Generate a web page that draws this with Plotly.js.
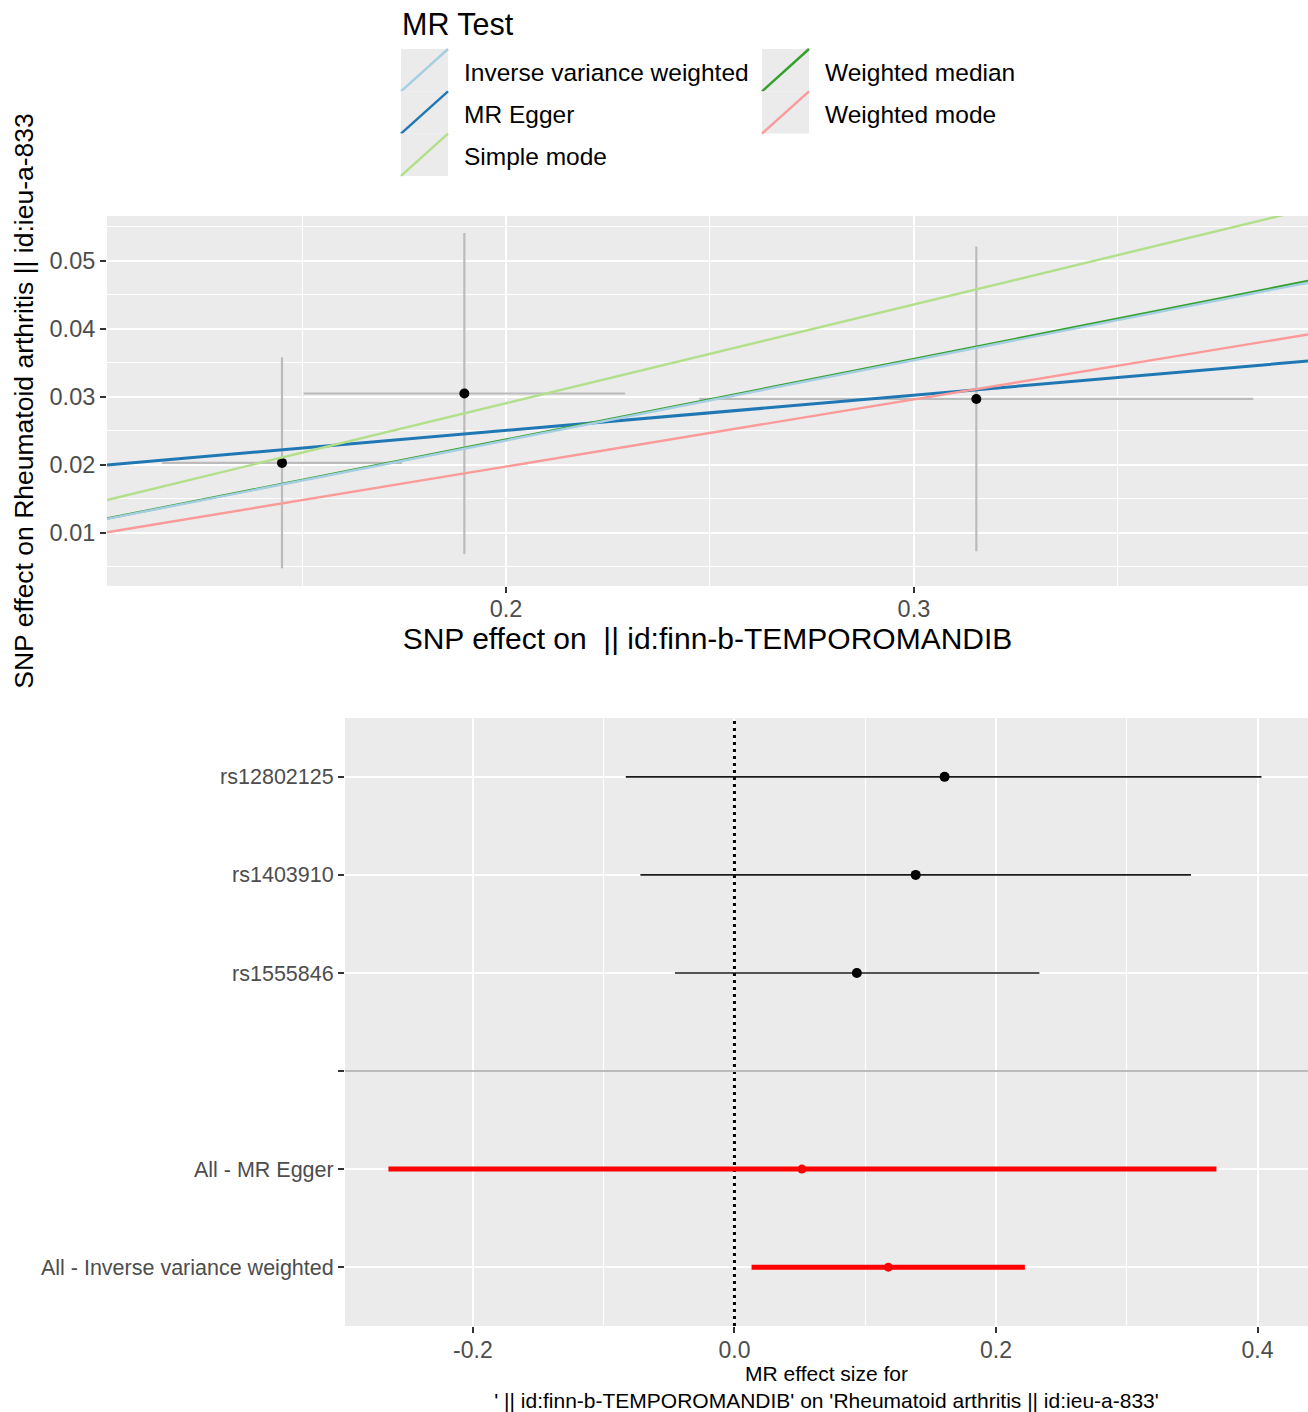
<!DOCTYPE html>
<html>
<head>
<meta charset="utf-8">
<script src="https://cdn.plot.ly/plotly-3.0.1.min.js"></script>
<style>
  html, body { margin: 0; padding: 0; background: #ffffff; }
  #top { width: 1308px; height: 700px; }
  #bottom { width: 1308px; height: 712px; }
</style>
</head>
<body>
<div id="top"></div>
<div id="bottom"></div>
<script>
// ---------------- DATA: scatter plot (top) ----------------
const snpIds       = ["rs1403910", "rs12802125", "rs1555846"];
const exposureBeta = [0.1451, 0.1898, 0.3153];
const exposureSe   = [0.0294, 0.0394, 0.0679];
const outcomeBeta  = [0.0203, 0.0305, 0.0297];
const outcomeSe    = [0.0155, 0.0236, 0.0224];

// MR methods (drawing order follows the MR results table)
const methodNames  = ["MR Egger", "Weighted median", "Inverse variance weighted", "Simple mode", "Weighted mode"];
const methodSlope  = [0.0519, 0.1186, 0.1180, 0.1453, 0.0988];
const methodInter  = [0.01469, 0, 0, 0, 0];
const methodColors = ["#1F78B4", "#33A02C", "#A6CEE3", "#B2DF8A", "#FB9A99"];
// legend order (as in the reference legend)
const legendOrder  = ["Inverse variance weighted", "MR Egger", "Simple mode", "Weighted median", "Weighted mode"];

const topXRange = [0.1022, 0.3966];
const topYRange = [0.0022, 0.0566];
const topXTitle = "SNP effect on \u00a0|| id:finn-b-TEMPOROMANDIB";
const topYTitle = "SNP effect on Rheumatoid arthritis || id:ieu-a-833";
const legendTitle = "MR Test";

// ---------------- DATA: forest plot (bottom) ----------------
const forestLabels  = ["rs12802125", "rs1403910", "rs1555846", "", "All - MR Egger", "All - Inverse variance weighted"];
const forestB       = [0.1607, 0.1386, 0.0936, null, 0.0516, 0.1177];
const forestLo      = [-0.0831, -0.0719, -0.0455, null, -0.2646, 0.0131];
const forestUp      = [0.4030, 0.3491, 0.2332, null, 0.3686, 0.2221];
const forestSummary = [false, false, false, false, true, true];
const forestNull    = 0;   // reference (null-effect) line
const forestXTicks    = [-0.2, 0, 0.2, 0.4];
const forestXTickText = ["-0.2", "0.0", "0.2", "0.4"];
const forestXRange    = [-0.2978, 0.4386];
const forestXTitle = "MR effect size for<br>' || id:finn-b-TEMPOROMANDIB' on 'Rheumatoid arthritis || id:ieu-a-833'";

// ---------------- styling ----------------
const FONT = "Liberation Sans, Arial, Helvetica, sans-serif";
const PANEL = "#EBEBEB";
const TICKTEXT = "#4D4D4D";

// ======================= TOP CHART =======================
(function () {
  const W = 1308, H = 700;
  const m = { l: 107, r: 0, t: 216, b: 114 };
  const pw = W - m.l - m.r, ph = H - m.t - m.b;
  const px = X => (X - m.l) / pw;
  const py = Y => (H - m.b - Y) / ph;

  const traces = [];
  // error bars (under points)
  traces.push({
    type: "scatter", mode: "markers",
    x: exposureBeta, y: outcomeBeta, text: snpIds,
    marker: { color: "rgba(0,0,0,0)", size: 1 },
    error_x: { type: "data", array: exposureSe, visible: true, color: "#BBBBBB", thickness: 2.2, width: 0 },
    error_y: { type: "data", array: outcomeSe, visible: true, color: "#BBBBBB", thickness: 2.2, width: 0 },
    showlegend: false, hoverinfo: "skip"
  });
  traces.push({
    type: "scatter", mode: "markers",
    x: exposureBeta, y: outcomeBeta, text: snpIds,
    marker: { color: "#000000", size: 10 },
    showlegend: false
  });
  // method lines
  methodNames.forEach((name, i) => {
    const xs = topXRange.slice();
    const ys = xs.map(v => methodInter[i] + methodSlope[i] * v);
    traces.push({
      type: "scatter", mode: "lines", name: name,
      x: xs, y: ys,
      line: { color: methodColors[i], width: name === "MR Egger" ? 3 : 2.4 },
      showlegend: false
    });
  });

  // manual legend with diagonal keys (ggplot abline keys)
  const shapes = [], annotations = [];
  const keyX = [401, 762], keyW = 47, keyTop = 49, keyH = 42.3, textDX = 61;
  legendOrder.forEach((name, k) => {
    const col = Math.floor(k / 3), row = k % 3;
    const i = methodNames.indexOf(name);
    const x0 = keyX[col], x1 = keyX[col] + keyW;
    const y0 = keyTop + row * keyH, y1 = y0 + keyH;
    shapes.push({ type: "rect", xref: "paper", yref: "paper",
      x0: px(x0), x1: px(x1), y0: py(y1), y1: py(y0),
      fillcolor: PANEL, line: { width: 0 }, layer: "above" });
    shapes.push({ type: "line", xref: "paper", yref: "paper",
      x0: px(x0), x1: px(x1), y0: py(y1), y1: py(y0),
      line: { color: methodColors[i], width: 2.4 }, layer: "above" });
    annotations.push({ xref: "paper", yref: "paper", x: px(x0 + textDX), y: py((y0 + y1) / 2 + 2),
      xanchor: "left", yanchor: "middle", showarrow: false, text: name,
      font: { family: FONT, size: 24.5, color: "#000000" } });
  });
  annotations.push({ xref: "paper", yref: "paper", x: px(400), y: py(24),
    xanchor: "left", yanchor: "middle", showarrow: false, text: legendTitle,
    font: { family: FONT, size: 30.5, color: "#000000" } });

  const layout = {
    width: W, height: H, margin: m,
    paper_bgcolor: "#ffffff", plot_bgcolor: PANEL,
    showlegend: false,
    font: { family: FONT },
    xaxis: {
      range: topXRange, dtick: 0.1, tick0: 0, showgrid: true, gridcolor: "#ffffff", gridwidth: 2,
      zeroline: false, showline: false,
      ticks: "outside", ticklen: 6, tickwidth: 2, tickcolor: "#333333", ticklabelstandoff: -4,
      tickfont: { family: FONT, size: 23.5, color: TICKTEXT },
      minor: { dtick: 0.05, tick0: 0, showgrid: true, gridcolor: "#ffffff", gridwidth: 1, ticks: "" },
      title: { text: topXTitle, font: { family: FONT, size: 30, color: "#000000" }, standoff: 2 }
    },
    yaxis: {
      range: topYRange, dtick: 0.01, tick0: 0, showgrid: true, gridcolor: "#ffffff", gridwidth: 2,
      zeroline: false, showline: false,
      ticks: "outside", ticklen: 6, tickwidth: 2, tickcolor: "#333333",
      tickfont: { family: FONT, size: 23.5, color: TICKTEXT },
      minor: { dtick: 0.005, tick0: 0, showgrid: true, gridcolor: "#ffffff", gridwidth: 1, ticks: "" },
      title: { text: topYTitle, font: { family: FONT, size: 26.5, color: "#000000" }, standoff: 8 }
    },
    shapes: shapes, annotations: annotations
  };
  Plotly.newPlot("top", traces, layout, { staticPlot: true, displayModeBar: false });
})();

// ======================= BOTTOM CHART =======================
(function () {
  const W = 1308, H = 712;
  const m = { l: 345, r: 0, t: 18, b: 86 };
  const n = forestLabels.length;
  const yPos = forestLabels.map((_, i) => n - i);
  const yRange = [0.4, n + 0.6];

  function pick(flag) {
    const idx = forestLabels.map((_, i) => i).filter(i => forestB[i] !== null && forestSummary[i] === flag);
    return {
      x: idx.map(i => forestB[i]),
      y: idx.map(i => yPos[i]),
      plus: idx.map(i => forestUp[i] - forestB[i]),
      minus: idx.map(i => forestB[i] - forestLo[i]),
      text: idx.map(i => forestLabels[i])
    };
  }
  const snp = pick(false), sum = pick(true);

  const traces = [
    // dotted null-effect line
    { type: "scatter", mode: "lines", x: [forestNull, forestNull], y: yRange,
      line: { color: "#000000", width: 3, dash: "3px,4px" }, showlegend: false, hoverinfo: "skip" },
    { type: "scatter", mode: "markers", x: snp.x, y: snp.y, text: snp.text,
      marker: { color: "#000000", size: 10 },
      error_x: { type: "data", symmetric: false, array: snp.plus, arrayminus: snp.minus,
                 color: "#1A1A1A", thickness: 1.6, width: 0 },
      showlegend: false },
    { type: "scatter", mode: "markers", x: sum.x, y: sum.y, text: sum.text,
      marker: { color: "#FF0000", size: 9 },
      error_x: { type: "data", symmetric: false, array: sum.plus, arrayminus: sum.minus,
                 color: "#FF0000", thickness: 5, width: 0 },
      showlegend: false }
  ];

  const blankIdx = forestLabels.indexOf("");
  const shapes = [
    { type: "line", xref: "paper", yref: "y", x0: 0, x1: 1, y0: yPos[blankIdx], y1: yPos[blankIdx],
      line: { color: "#BBBBBB", width: 2 }, layer: "above" }
  ];

  const layout = {
    width: W, height: H, margin: m,
    paper_bgcolor: "#ffffff", plot_bgcolor: PANEL,
    showlegend: false,
    font: { family: FONT },
    xaxis: {
      range: forestXRange, tickmode: "array", tickvals: forestXTicks, ticktext: forestXTickText,
      showgrid: true, gridcolor: "#ffffff", gridwidth: 2, zeroline: false, showline: false,
      ticks: "outside", ticklen: 6, tickwidth: 2, tickcolor: "#333333", ticklabelstandoff: -3,
      tickfont: { family: FONT, size: 23, color: TICKTEXT },
      minor: { tickmode: "linear", dtick: 0.1, tick0: 0, showgrid: true, gridcolor: "#ffffff", gridwidth: 1, ticks: "" },
      title: { text: forestXTitle, font: { family: FONT, size: 21, color: "#000000" }, standoff: 6 }
    },
    yaxis: {
      range: yRange, tickmode: "array", tickvals: yPos, ticktext: forestLabels,
      showgrid: true, gridcolor: "#ffffff", gridwidth: 2, zeroline: false, showline: false,
      ticks: "outside", ticklen: 6, tickwidth: 2, tickcolor: "#333333",
      tickfont: { family: FONT, size: 21.5, color: TICKTEXT }
    },
    shapes: shapes
  };
  Plotly.newPlot("bottom", traces, layout, { staticPlot: true, displayModeBar: false });
})();
</script>
</body>
</html>
